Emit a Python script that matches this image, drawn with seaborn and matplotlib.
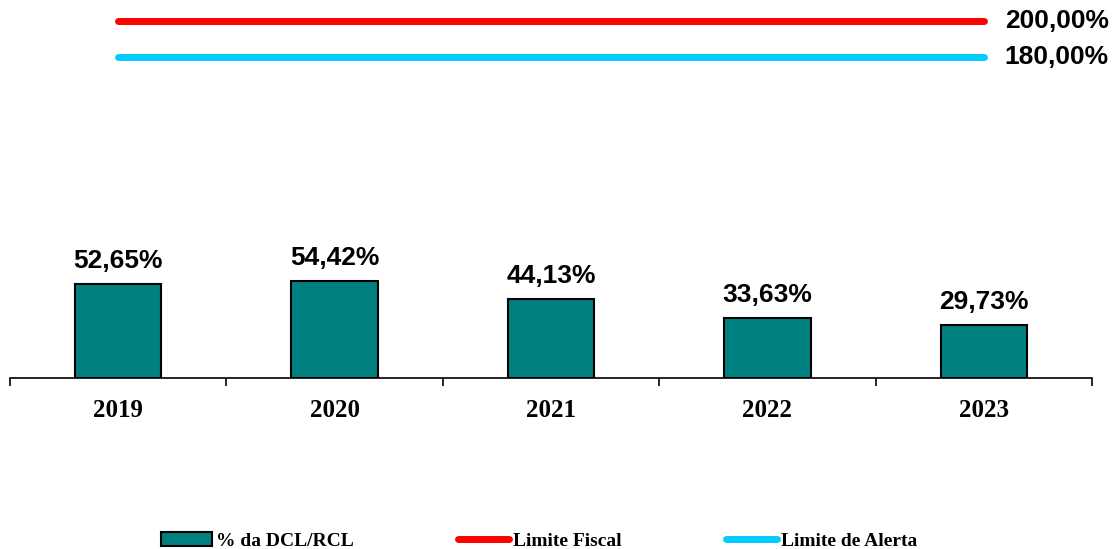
import seaborn as sns
import matplotlib.pyplot as plt
import numpy as np
from matplotlib.lines import Line2D
from matplotlib.patches import Patch

years = ['2019', '2020', '2021', '2022', '2023']
dcl_rcl = [52.65, 54.42, 44.13, 33.63, 29.73]
limite_fiscal = [200.0, 200.0, 200.0, 200.0, 200.0]
limite_alerta = [180.0, 180.0, 180.0, 180.0, 180.0]


def fmt(v):
    return f'{v:.2f}'.replace('.', ',') + '%'


def operation():
    sns.set_style('white')
    plt.rcParams['text.color'] = 'black'
    plt.rcParams['xtick.color'] = 'black'
    plt.rcParams['axes.edgecolor'] = 'black'
    fig = plt.figure(figsize=(11.14, 5.49), dpi=100)
    ax = fig.add_axes([10 / 1114, 171 / 549, 1082 / 1114, 378 / 549])

    sns.barplot(x=years, y=dcl_rcl, color='#008080', width=0.4,
                edgecolor='black', linewidth=1.5, saturation=1, ax=ax)

    pos = np.arange(len(years))
    ax.plot(pos, limite_fiscal, color='#ff0000', lw=5, solid_capstyle='round')
    ax.plot(pos, limite_alerta, color='#00ccff', lw=5, solid_capstyle='round')

    ax.bar_label(ax.containers[0], labels=[fmt(v) for v in dcl_rcl], padding=8,
                 fontsize=19, fontweight='bold', family='Liberation Sans', color='black')
    for val in (limite_fiscal[-1], limite_alerta[-1]):
        ax.annotate(fmt(val), (pos[-1], val), xytext=(15, 0), textcoords='offset points',
                    ha='left', va='center', fontsize=19, fontweight='bold',
                    family='Liberation Sans', color='black', annotation_clip=False)

    ax.set_xlim(-0.5, 4.5)
    ax.set_ylim(0, 211.8)
    ax.set_yticks([])
    for s in ('top', 'right', 'left'):
        ax.spines[s].set_visible(False)
    ax.spines['bottom'].set_linewidth(1.2)
    ax.set_xticks(np.arange(-0.5, 5, 1), minor=True)
    ax.tick_params(axis='x', which='minor', length=6, width=1.2, direction='out',
                   bottom=True, color='black')
    ax.tick_params(axis='x', which='major', length=0, pad=15, labelcolor='black')
    for t in ax.get_xticklabels():
        t.set_fontfamily('Liberation Serif')
        t.set_fontweight('bold')
        t.set_fontsize(18)

    handles = [Patch(facecolor='#008080', edgecolor='black', linewidth=1.5),
               Line2D([], [], color='#ff0000', lw=5, solid_capstyle='round'),
               Line2D([], [], color='#00ccff', lw=5, solid_capstyle='round')]
    fig.legend(handles, ['% da DCL/RCL', 'Limite Fiscal', 'Limite de Alerta'],
               loc='center', bbox_to_anchor=(0.484, 0.015), ncol=3, frameon=False,
               prop={'family': 'Liberation Serif', 'weight': 'bold', 'size': 14},
               handlelength=2.6, handletextpad=0.2, columnspacing=5.4)

    fig.savefig('out.png', dpi=100)


if __name__ == "__main__":
    operation()
